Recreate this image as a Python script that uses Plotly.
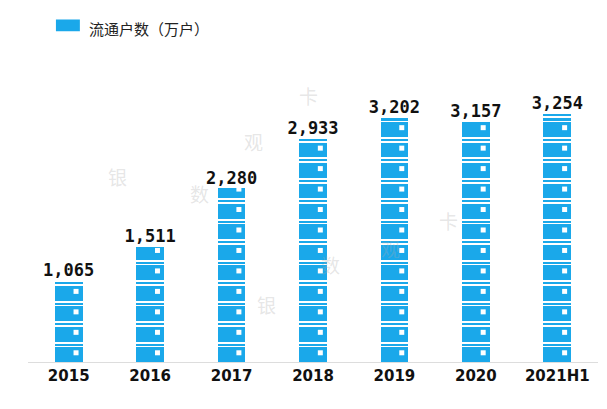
import plotly.graph_objects as go

years = ["2015", "2016", "2017", "2018", "2019", "2020", "2021H1"]
values = [1065, 1511, 2280, 2933, 3202, 3157, 3254]
labels = ["1,065", "1,511", "2,280", "2,933", "3,202", "3,157", "3,254"]

BLUE = "#1aa8ea"
unit = 268  # value represented by one card icon

body_x, body_base, body_h = [], [], []
strip_x, strip_base, strip_h = [], [], []
dot_x, dot_y = [], []
for i, (yr, v) in enumerate(zip(years, values)):
    k = 0
    while k * unit < v:
        b = k * unit
        h = min(0.72 * unit, v - b)
        body_x.append(yr); body_base.append(b); body_h.append(h)
        if h > 0.5 * unit:
            dot_x.append(i + 0.09); dot_y.append(b + 0.45 * unit)
        sb = b + 0.8 * unit
        if sb < v:
            strip_x.append(yr); strip_base.append(sb); strip_h.append(min(0.1 * unit, v - sb))
        k += 1

fig = go.Figure()
fig.add_trace(go.Bar(x=body_x, y=body_h, base=body_base, width=0.34,
                     marker=dict(color=BLUE, line=dict(width=0)), showlegend=False))
fig.add_trace(go.Bar(x=strip_x, y=strip_h, base=strip_base, width=0.34,
                     marker=dict(color=BLUE, line=dict(width=0)), showlegend=False))
fig.add_trace(go.Scatter(x=dot_x, y=dot_y, mode="markers", xaxis="x2",
                         marker=dict(symbol="square", color="white", size=5),
                         showlegend=False))
fig.add_trace(go.Scatter(x=years, y=values, mode="text", text=labels,
                         textposition="top center",
                         textfont=dict(family="DejaVu Sans Mono", size=17, color="#111", weight="bold"),
                         showlegend=False))

# watermark
for px, py, t in [(98, 168, "银"), (180, 185, "数"), (245, 118, "观"), (300, 72, "卡"),
                  (258, 312, "银"), (322, 272, "数"), (382, 240, "观"), (452, 212, "卡")]:
    fig.add_annotation(x=(px - 20) / 570, y=(354 - py) / 294, xref="paper", yref="paper",
                       text=t, showarrow=False,
                       font=dict(family="Noto Sans CJK SC", size=19, color="rgba(170,170,170,0.3)"))

# legend
fig.add_shape(type="rect", xref="paper", yref="paper", x0=0.049, x1=0.091, y0=1.125, y1=1.165,
              fillcolor=BLUE, line=dict(width=0))
fig.add_annotation(x=0.103, y=1.178, xref="paper", yref="paper", text="流通户数（万户）",
                   showarrow=False, xanchor="left",
                   font=dict(family="Noto Sans CJK SC", size=15, color="#222"))

fig.update_layout(
    width=607, height=409, barmode="overlay", bargap=0,
    margin=dict(l=20, r=17, t=60, b=55),
    paper_bgcolor="white", plot_bgcolor="white",
    xaxis=dict(type="category", range=[-0.5, 6.5], showgrid=False, ticks="",
               showline=True, linecolor="#ddd", linewidth=1,
               tickfont=dict(family="DejaVu Sans", size=15, color="#111", weight="bold")),
    xaxis2=dict(range=[-0.5, 6.5], overlaying="x", visible=False),
    yaxis=dict(range=[0, 3850], visible=False),
)
fig.write_html("out.html")
